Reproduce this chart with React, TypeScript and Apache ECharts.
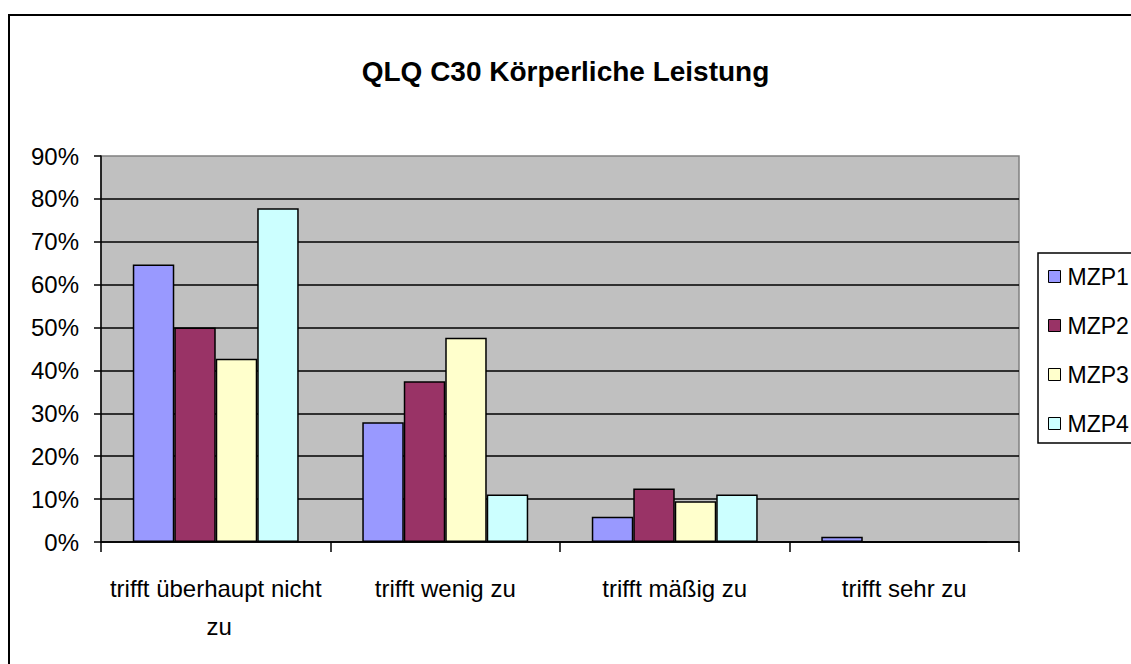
import React, { useEffect, useRef } from "react";
import * as echarts from "echarts";

const categories = ["trifft überhaupt nicht zu", "trifft wenig zu", "trifft mäßig zu", "trifft sehr zu"];
const seriesNames = ["MZP1", "MZP2", "MZP3", "MZP4"];
const mzp1 = [64.7, 27.9, 5.9, 1.2];
const mzp2 = [50.0, 37.5, 12.5, 0];
const mzp3 = [42.7, 47.6, 9.5, 0];
const mzp4 = [77.8, 11.1, 11.1, 0];
const seriesValues = [mzp1, mzp2, mzp3, mzp4];
const colors = ["#9999FF", "#993366", "#FFFFCC", "#CCFFFF"];
const titleText = "QLQ C30 Körperliche Leistung";

const FONT = "'Liberation Sans', Arial, sans-serif";

export default function App() {
  const ref = useRef<HTMLDivElement>(null);
  useEffect(() => {
    if (!ref.current) return;
    const chart = echarts.init(ref.current, null, { renderer: "svg" });
    chart.setOption({
      animation: false,
      backgroundColor: "#ffffff",
      title: {
        text: titleText,
        left: "center",
        top: 52,
        textStyle: { fontFamily: FONT, fontSize: 28, fontWeight: "bold", color: "#000" },
      },
      graphic: [
        {
          type: "rect",
          shape: { x: 9, y: 15, width: 1300, height: 800 },
          style: { fill: "none", stroke: "#000", lineWidth: 2 },
          z: 100,
          silent: true,
        },
      ],
      legend: {
        orient: "vertical",
        left: 1038,
        top: 253,
        data: seriesNames,
        icon: "rect",
        itemWidth: 12,
        itemHeight: 12,
        itemGap: 26,
        padding: [12, 12, 8, 10],
        borderColor: "#000",
        borderWidth: 1.5,
        backgroundColor: "#fff",
        itemStyle: { borderColor: "#000", borderWidth: 1 },
        textStyle: { fontFamily: FONT, fontSize: 23, color: "#000", padding: [0, 0, 0, 2] },
      },
      grid: {
        left: 101,
        top: 156,
        right: 112,
        bottom: 122,
        show: true,
        backgroundColor: "#C0C0C0",
        borderColor: "#808080",
        borderWidth: 1.5,
      },
      xAxis: {
        type: "category",
        data: categories,
        axisLine: { lineStyle: { color: "#000", width: 1.5 } },
        axisTick: { show: true, length: 10, lineStyle: { color: "#000", width: 1.5 } },
        axisLabel: {
          interval: 0,
          fontFamily: FONT,
          fontSize: 24,
          color: "#000",
          margin: 27,
          lineHeight: 38,
          width: 226,
          overflow: "break",
          align: "center",
        },
      },
      yAxis: {
        type: "value",
        min: 0,
        max: 90,
        interval: 10,
        axisLine: { show: true, lineStyle: { color: "#000", width: 1.5 } },
        axisTick: { show: true, length: 7, lineStyle: { color: "#000", width: 1.5 } },
        splitLine: { show: true, showMaxLine: false, lineStyle: { color: "#000", width: 1.5 } },
        axisLabel: {
          fontFamily: FONT,
          fontSize: 24,
          color: "#000",
          margin: 22,
          formatter: "{value}%",
        },
      },
      series: seriesNames.map((name, i) => ({
        name,
        type: "bar",
        data: seriesValues[i],
        barGap: "0%",
        barCategoryGap: "27.7%",
        itemStyle: { color: colors[i], borderColor: "#000", borderWidth: 1.5 },
      })),
    });
    return () => chart.dispose();
  }, []);
  return (
    <div
      ref={ref}
      style={{ position: "absolute", left: 0, top: 0, width: 1131, height: 664 }}
    />
  );
}
